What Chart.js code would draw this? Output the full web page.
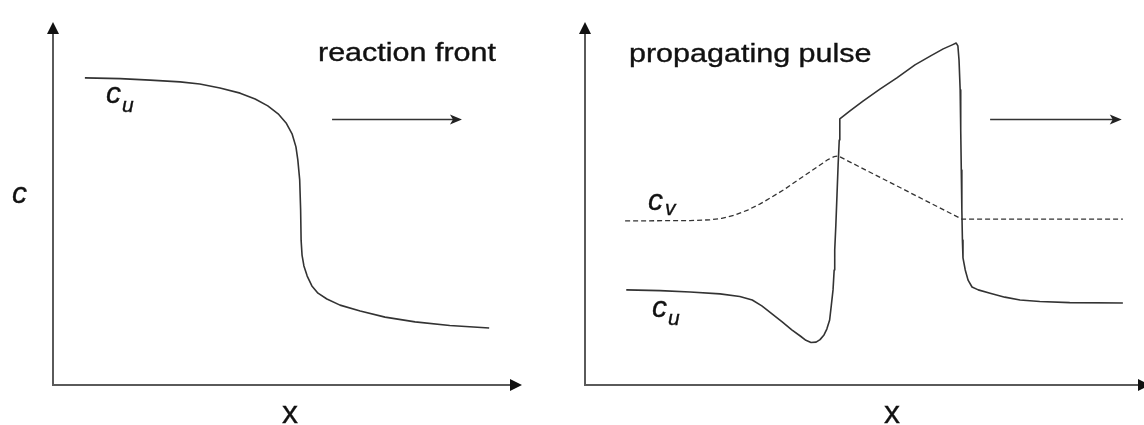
<!DOCTYPE html>
<html><head><meta charset="utf-8">
<script src="https://cdn.jsdelivr.net/npm/chart.js@4/dist/chart.umd.min.js"></script>
<style>
html,body{margin:0;padding:0;width:1144px;height:425px;overflow:hidden;background:#fff;}
#c1{position:absolute;left:0;top:0;}
#c2{position:absolute;left:572px;top:0;}
</style></head><body>
<canvas id="c1" width="572" height="425"></canvas>
<canvas id="c2" width="590" height="425"></canvas>
<script>
// Left panel: reaction front, concentration c_u versus x (arbitrary units 0..10)
const frontX = [0.68, 1.43, 2.07, 2.71, 3.13, 3.56, 3.99, 4.31, 4.58, 4.80, 4.97, 5.10, 5.18, 5.22, 5.26, 5.28, 5.29, 5.31, 5.35, 5.42, 5.52, 5.65, 5.84, 6.12, 6.55, 7.08, 7.72, 8.46, 9.30];
const frontC = [8.46, 8.44, 8.40, 8.35, 8.29, 8.18, 8.04, 7.88, 7.69, 7.47, 7.22, 6.91, 6.56, 6.20, 5.65, 4.82, 3.99, 3.58, 3.28, 3.00, 2.73, 2.53, 2.37, 2.20, 2.04, 1.87, 1.74, 1.64, 1.57];

// Right panel: propagating pulse, c_u (solid) and c_v (dashed)
const pulseUX = [0.73, 1.33, 1.86, 2.39, 2.74, 2.96, 3.13, 3.31, 3.49, 3.66, 3.81, 3.91, 4.00, 4.09, 4.16, 4.23, 4.28, 4.33, 4.36, 4.39, 4.41, 4.42, 4.44, 4.46, 4.48, 4.50, 4.51, 4.69, 4.92, 5.22, 5.52, 5.84, 6.11, 6.34, 6.50, 6.57, 6.60, 6.62, 6.64, 6.65, 6.66, 6.67, 6.68, 6.69, 6.73, 6.78, 6.85, 6.96, 7.17, 7.43, 7.70, 8.05, 8.58, 9.52];
const pulseU  = [2.62, 2.60, 2.56, 2.51, 2.44, 2.34, 2.18, 1.96, 1.74, 1.52, 1.35, 1.23, 1.17, 1.18, 1.25, 1.38, 1.54, 1.79, 2.20, 2.62, 3.17, 3.72, 4.41, 5.23, 6.06, 6.75, 7.33, 7.55, 7.82, 8.15, 8.46, 8.82, 9.06, 9.26, 9.37, 9.42, 9.34, 8.95, 8.13, 7.02, 5.92, 4.82, 3.99, 3.50, 3.17, 2.89, 2.70, 2.62, 2.53, 2.42, 2.34, 2.30, 2.27, 2.26];
const pulseVX = [0.71, 1.86, 2.21, 2.42, 2.65, 2.88, 3.10, 3.31, 3.54, 3.77, 3.98, 4.16, 4.30, 4.41, 4.48, 6.67, 9.52];
const pulseV  = [4.52, 4.53, 4.55, 4.59, 4.68, 4.82, 4.99, 5.18, 5.40, 5.65, 5.87, 6.06, 6.21, 6.29, 6.31, 4.57, 4.57];

// Axis extents and direction-of-travel arrows (data units)
const axisMax = 10;
const frontArrow = {x0: 5.95, x1: 8.72, y: 7.33};
const pulseArrow = {x0: 7.17, x1: 9.50, y: 7.33};

function pts(xs, ys){ return xs.map((v,i)=>({x:v, y:ys[i]})); }

function head(ctx, tx, ty, dir, len, half){
  ctx.beginPath();
  if(dir==='r'){ ctx.moveTo(tx,ty); ctx.lineTo(tx-len,ty-half); ctx.lineTo(tx-len,ty+half); }
  else { ctx.moveTo(tx,ty); ctx.lineTo(tx-half,ty+len); ctx.lineTo(tx+half,ty+len); }
  ctx.closePath(); ctx.fill();
}

function decor(arrow, labels){
  return {
    id:'decor',
    beforeDatasetsDraw(chart){
      const {ctx, scales:{x,y}} = chart;
      const x0 = x.getPixelForValue(0), y0 = y.getPixelForValue(0);
      const xt = x.getPixelForValue(axisMax), yt = y.getPixelForValue(axisMax);
      ctx.save();
      ctx.strokeStyle = '#5a5a5a'; ctx.lineWidth = 2;
      ctx.beginPath(); ctx.moveTo(x0, yt+8); ctx.lineTo(x0, y0); ctx.lineTo(xt-8, y0); ctx.stroke();
      ctx.fillStyle = '#111';
      head(ctx, xt, y0, 'r', 12, 6);
      head(ctx, x0, yt, 'u', 12, 6);
      // travel arrow
      const ax0 = x.getPixelForValue(arrow.x0), ax1 = x.getPixelForValue(arrow.x1), ay = Math.round(y.getPixelForValue(arrow.y))+0.5;
      ctx.strokeStyle = '#333'; ctx.lineWidth = 1.6;
      ctx.beginPath(); ctx.moveTo(ax0, ay); ctx.lineTo(ax1-6, ay); ctx.stroke();
      ctx.fillStyle = '#222';
      ctx.beginPath(); ctx.moveTo(ax1, ay); ctx.lineTo(ax1-12, ay-5); ctx.lineTo(ax1-9, ay); ctx.lineTo(ax1-12, ay+5); ctx.closePath(); ctx.fill();
      ctx.restore();
    },
    afterDraw(chart){
      const ctx = chart.ctx;
      ctx.save();
      ctx.fillStyle = '#111';
      ctx.strokeStyle = '#111';
      ctx.lineWidth = 0.35;
      ctx.textBaseline = 'alphabetic';
      labels.forEach(l=>{
        ctx.font = l.font;
        ctx.textAlign = l.align || 'left';
        ctx.save();
        ctx.translate(l.x, l.y);
        ctx.scale(l.sx || 1, 1);
        ctx.fillText(l.t, 0, 0);
        ctx.strokeText(l.t, 0, 0);
        ctx.restore();
      });
      ctx.restore();
    }
  };
}

const F = '"Liberation Sans", Arial, sans-serif';

function baseOptions(pad){
  return {
    responsive:false, animation:false, events:[],
    layout:{padding:pad},
    plugins:{legend:{display:false}, tooltip:{enabled:false}},
    scales:{
      x:{type:'linear', min:0, max:axisMax, display:false},
      y:{type:'linear', min:0, max:axisMax, display:false}
    },
    elements:{point:{radius:0}}
  };
}

new Chart(document.getElementById('c1'), {
  type:'line',
  data:{datasets:[{
    label:'c_u', data:pts(frontX, frontC),
    borderColor:'#333', borderWidth:1.6, fill:false,
    tension:0, pointRadius:0, clip:false, borderJoinStyle:'round'
  }]},
  options: baseOptions({left:53, right:50, top:22, bottom:40}),
  plugins:[decor(frontArrow, [
    {t:'reaction front', x:318, y:61, font:'25px '+F, sx:1.22},
    {t:'c', x:12, y:203, font:'italic 30px '+F},
    {t:'x', x:290, y:423, font:'32px '+F, align:'center'},
    {t:'c', x:106, y:103, font:'italic 30px '+F},
    {t:'u', x:122, y:112, font:'italic 21px '+F}
  ])]
});

new Chart(document.getElementById('c2'), {
  type:'line',
  data:{datasets:[{
    label:'c_u', data:pts(pulseUX, pulseU),
    borderColor:'#333', borderWidth:1.6, fill:false,
    tension:0, pointRadius:0, clip:false, borderJoinStyle:'round'
  },{
    label:'c_v', data:pts(pulseVX, pulseV),
    borderColor:'#333', borderWidth:1.3, fill:false, tension:0,
    borderDash:[5,3], pointRadius:0, clip:false
  }]},
  options: baseOptions({left:13, right:12, top:22, bottom:40}),
  plugins:[decor(pulseArrow, [
    {t:'propagating pulse', x:57, y:62, font:'25px '+F, sx:1.22},
    {t:'x', x:320, y:423, font:'32px '+F, align:'center'},
    {t:'c', x:76, y:210, font:'italic 30px '+F},
    {t:'v', x:93, y:215, font:'italic 21px '+F},
    {t:'c', x:80, y:317, font:'italic 30px '+F},
    {t:'u', x:96, y:325, font:'italic 21px '+F}
  ])]
});
</script>
</body></html>
